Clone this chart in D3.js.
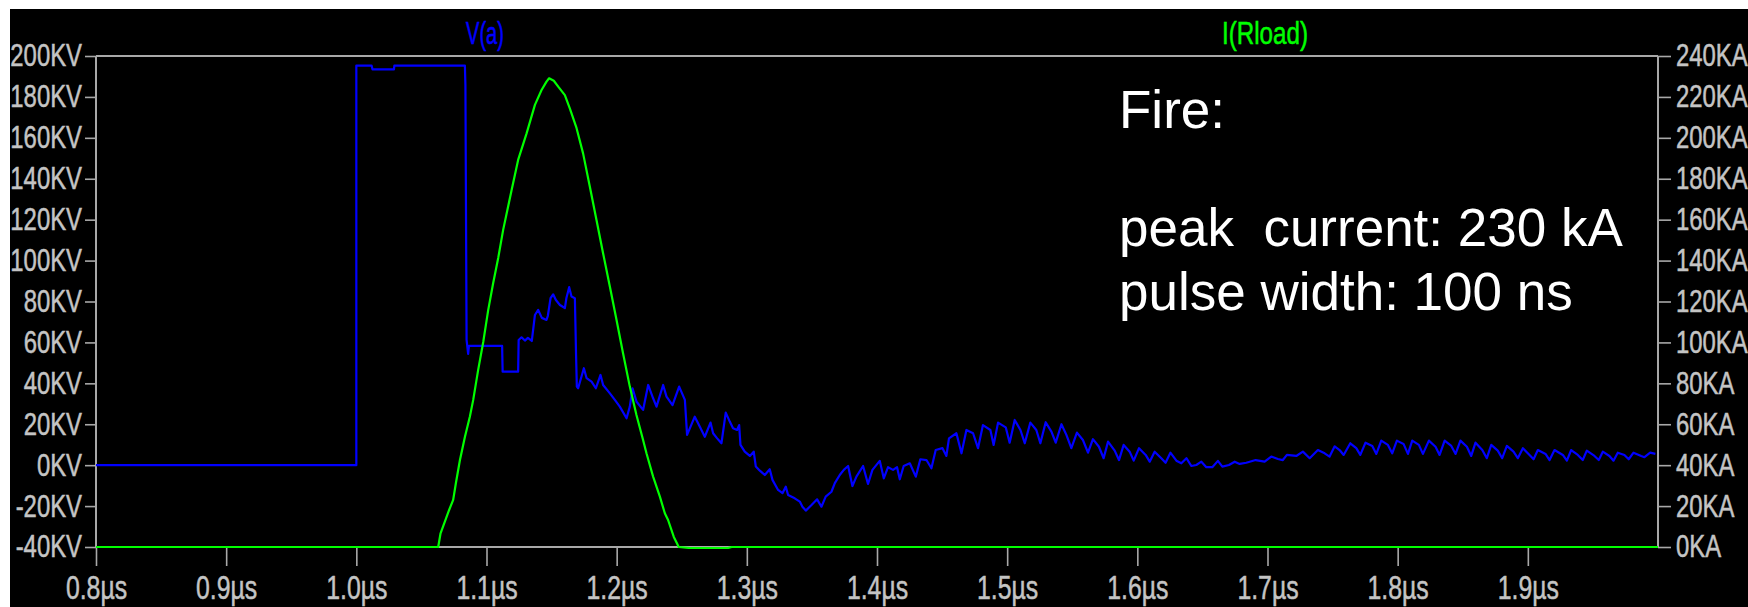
<!DOCTYPE html>
<html>
<head>
<meta charset="utf-8">
<script src="https://cdn.jsdelivr.net/npm/d3@7"></script>
<style>
  body { margin: 0; background: #fff; }
  svg { display: block; }
</style>
</head>
<body>
<div id="chart"></div>
<script>
// V(a) trace: time in ns, voltage in kV
const timeNsV = [800, 1000, 1000, 1011.7, 1012.4, 1028.9, 1029.2, 1083.4, 1083.8, 1084.7, 1085.9, 1086.5, 1112.0, 1112.4, 1124.3, 1124.7, 1126.9, 1129.5, 1131.8, 1134.8,
  1137.2, 1139.7, 1142.5, 1146.1, 1147.1, 1149.2, 1151.2, 1153.3, 1156.4, 1160.2, 1161.4, 1163.5, 1165.3, 1167.9, 1168.8, 1169.4, 1170.4, 1174.8, 1176.9, 1180.7,
  1184.0, 1187.6, 1189.6, 1194.8, 1198.6, 1202.4, 1207.6, 1210.1, 1212.2, 1215.3, 1220.3, 1224.2, 1228.0, 1230.6, 1235.7, 1238.3, 1242.9, 1248.0, 1252.4, 1254.1,
  1260.0, 1263.9, 1267.7, 1272.1, 1274.1, 1277.2, 1280.5, 1283.8, 1286.9, 1289.4, 1292.5, 1294.1, 1295.1, 1298.4, 1302.3, 1305.3, 1306.9, 1310.0, 1313.8, 1317.6,
  1319.7, 1324.0, 1327.4, 1329.9, 1331.7, 1336.8, 1340.7, 1342.7, 1345.3, 1349.7, 1354.0, 1357.3, 1360.6, 1365.0, 1367.6, 1371.4, 1374.5, 1377.8, 1381.1, 1384.2,
  1389.3, 1393.1, 1396.5, 1402.1, 1405.2, 1408.5, 1412.3, 1415.4, 1417.5, 1420.5, 1425.2, 1429.8, 1433.3, 1438.0, 1441.8, 1445.1, 1450.3, 1453.3, 1455.3, 1461.0,
  1464.9, 1468.7, 1473.8, 1477.6, 1481.4, 1487.1, 1489.6, 1493.0, 1498.9, 1501.9, 1505.8, 1510.2, 1513.5, 1517.8, 1522.4, 1525.5, 1529.6, 1534.0, 1537.3, 1541.7,
  1545.5, 1549.3, 1553.6, 1558.2, 1562.1, 1565.9, 1570.5, 1574.1, 1577.5, 1582.6, 1585.9, 1589.5, 1594.1, 1597.2, 1601.3, 1606.4, 1609.5, 1613.3, 1618.4, 1621.7,
  1625.4, 1630.0, 1633.8, 1637.7, 1641.5, 1645.3, 1649.2, 1653.0, 1657.6, 1661.9, 1665.3, 1670.4, 1674.8, 1678.6, 1683.7, 1690.9, 1697.8, 1702.9, 1708.0, 1711.8,
  1714.9, 1722.1, 1727.2, 1732.4, 1738.7, 1743.9, 1747.7, 1751.6, 1755.4, 1758.5, 1763.6, 1768.2, 1771.3, 1775.3, 1780.5, 1783.6, 1787.4, 1792.5, 1795.8, 1799.4,
  1804.5, 1807.9, 1811.2, 1816.3, 1819.4, 1824.0, 1829.1, 1832.2, 1836.1, 1841.2, 1844.5, 1848.2, 1853.2, 1856.5, 1859.8, 1865.0, 1868.5, 1871.9, 1876.9, 1880.3,
  1883.9, 1889.0, 1892.3, 1896.2, 1901.3, 1904.4, 1907.7, 1913.6, 1916.7, 1920.5, 1926.9, 1930.0, 1933.3, 1938.4, 1942.2, 1945.3, 1951.2, 1954.5, 1957.6, 1962.7,
  1965.8, 1969.1, 1974.2, 1977.5, 1981.2, 1987.1, 1989.6, 1994.0, 1998.0];
const vaKV = [0, 0, 195.3, 195.3, 193.5, 193.5, 195.3, 195.3, 185.8, 61.2, 54.4, 58.3, 58.3, 45.7, 45.7, 61.2, 62.5, 60.9, 62.2, 60.7,
  73.4, 75.9, 72.0, 71.0, 72.9, 81.6, 83.5, 80.7, 78.3, 76.8, 81.7, 87.0, 82.4, 81.6, 53.9, 38.4, 37.6, 47.4, 42.5, 40.8,
  37.6, 44.1, 39.2, 35.1, 31.9, 28.6, 22.9, 28.6, 37.6, 31.0, 27.0, 39.2, 32.7, 28.6, 39.2, 33.5, 29.4, 38.4, 31.9, 14.8,
  23.7, 18.8, 13.9, 20.8, 15.6, 13.1, 10.7, 25.7, 21.3, 18.0, 17.2, 19.6, 9.9, 6.6, 4.5, 6.6, -0.7, -2.7, -4.8, -2.0,
  -7.2, -12.1, -13.7, -10.5, -14.6, -16.2, -17.8, -20.3, -22.2, -19.5, -16.7, -20.3, -15.4, -13.0, -8.8, -4.8, -2.3, -0.4, -10.2, -5.6,
  -0.4, -9.2, -2.3, 2.1, -6.4, -1.0, -2.3, -1.0, -6.9, -0.4, 0.9, -5.6, 2.9, 2.5, -1.5, 7.4, 8.3, 4.5, 13.1, 15.6,
  5.8, 17.2, 15.6, 8.3, 19.6, 17.2, 9.9, 20.8, 18.5, 11.0, 22.1, 17.2, 10.7, 20.8, 17.2, 10.7, 21.0, 16.4, 11.0, 20.0,
  14.8, 8.3, 15.9, 12.3, 6.1, 12.7, 9.0, 3.4, 11.5, 7.1, 2.5, 9.9, 6.6, 2.2, 8.3, 5.0, 1.7, 6.6, 3.4, 1.2,
  6.1, 2.2, 0.9, 3.4, -0.4, 0.1, 1.7, -1.0, -1.0, 2.1, -0.7, 0.1, 1.7, 0.6, 1.2, 2.5, 1.7, 4.2, 3.0, 2.5,
  5.0, 4.5, 6.6, 3.4, 7.4, 5.8, 4.2, 9.2, 7.4, 5.0, 10.7, 8.3, 5.0, 11.0, 9.4, 5.5, 12.0, 9.9, 5.8, 12.0,
  10.4, 5.5, 12.0, 9.9, 5.5, 12.0, 9.0, 5.0, 12.0, 9.4, 5.5, 12.0, 9.0, 4.5, 11.0, 7.4, 3.4, 9.9, 7.1, 3.4,
  9.4, 6.6, 3.4, 8.3, 5.0, 2.9, 7.4, 5.5, 2.5, 7.4, 5.0, 2.2, 7.4, 5.0, 2.5, 7.1, 4.5, 2.5, 6.6, 4.5,
  2.2, 6.1, 5.0, 2.9, 6.1, 4.5, 3.9, 6.1, 5.5];

// I(Rload) trace: time in ns, current in kA
const timeNsI = [800, 1062.9, 1064.7, 1068.0, 1071.3, 1074.4, 1076.5, 1079.6, 1083.4, 1087.2, 1089.8, 1093.6, 1097.5, 1101.3, 1105.1, 1109.0, 1112.8, 1119.3, 1124.3, 1130.8,
  1137.2, 1142.3, 1146.1, 1148.1, 1151.7, 1155.1, 1160.2, 1164.0, 1169.2, 1174.2, 1179.4, 1184.5, 1189.6, 1194.8, 1199.9, 1204.9, 1210.1, 1215.2, 1220.3, 1222.9,
  1228.0, 1233.2, 1237.0, 1239.5, 1243.9, 1247.7, 1256.2, 1285.4, 1288.4, 2000];
const iloadKA = [0, 0, 6.7, 12.4, 18.1, 23.0, 31.3, 42.5, 53.8, 63.7, 71.9, 86.6, 100.2, 115.8, 128.9, 141.3, 155.0, 174.5, 189.2, 202.2,
  216.1, 223.4, 227.5, 229.1, 227.9, 225.0, 220.9, 214.4, 204.7, 192.4, 176.1, 159.8, 143.5, 127.2, 111.0, 94.7, 78.4, 64.5, 52.3, 45.8,
  34.4, 24.6, 16.5, 13.2, 4.9, 0, -0.5, -0.5, 0, 0];

const xTicks = [800, 900, 1000, 1100, 1200, 1300, 1400, 1500, 1600, 1700, 1800, 1900];
const xTickLabels = ["0.8µs", "0.9µs", "1.0µs", "1.1µs", "1.2µs", "1.3µs", "1.4µs", "1.5µs", "1.6µs", "1.7µs", "1.8µs", "1.9µs"];
const vTicks = [-40, -20, 0, 20, 40, 60, 80, 100, 120, 140, 160, 180, 200];
const vTickLabels = ["-40KV", "-20KV", "0KV", "20KV", "40KV", "60KV", "80KV", "100KV", "120KV", "140KV", "160KV", "180KV", "200KV"];
const iTicks = [0, 20, 40, 60, 80, 100, 120, 140, 160, 180, 200, 220, 240];
const iTickLabels = ["0KA", "20KA", "40KA", "60KA", "80KA", "100KA", "120KA", "140KA", "160KA", "180KA", "200KA", "220KA", "240KA"];

const noteLines = ["Fire:", "peak  current: 230 kA", "pulse width: 100 ns"];
const noteBaselines = [128, 246, 310];

const W = 1748, H = 607;
const plot = { left: 96, right: 1658, top: 56, bottom: 547 };
const gridColor = "#a8a8a8";
const labelColor = "#c4c4c4";
const font = "'Liberation Sans', Arial, sans-serif";

const svg = d3.select("#chart").append("svg")
    .attr("width", W)
    .attr("height", H);

svg.append("rect")
    .attr("x", 10).attr("y", 9)
    .attr("width", W - 10).attr("height", H - 9)
    .attr("fill", "#000");

const x = d3.scaleLinear().domain([800, 2000]).range([plot.left, plot.right]);
const yV = d3.scaleLinear().domain([-40, 200]).range([plot.bottom, plot.top]);
const yI = d3.scaleLinear().domain([0, 240]).range([plot.bottom, plot.top]);

// LTspice labels are tall and narrow: squeeze a normal sans horizontally
function styleAxis(g, size, sx, tx) {
    g.select(".domain").remove();
    g.selectAll("line").attr("stroke", gridColor).attr("stroke-width", 1.6);
    const t = g.selectAll("text")
        .attr("fill", labelColor)
        .attr("stroke", labelColor)
        .attr("stroke-width", 0.5)
        .attr("font-family", font)
        .attr("font-size", size)
        .attr("transform", `scale(${sx},1)`);
    if (tx !== null) t.attr("x", tx / sx);
}

svg.append("g")
    .attr("transform", `translate(${plot.left},0)`)
    .call(d3.axisLeft(yV).tickValues(vTicks).tickFormat((d, i) => vTickLabels[i]).tickSize(11).tickSizeOuter(0))
    .call(g => styleAxis(g, 31, 0.77, -14));

svg.append("g")
    .attr("transform", `translate(${plot.right},0)`)
    .call(d3.axisRight(yI).tickValues(iTicks).tickFormat((d, i) => iTickLabels[i]).tickSize(13).tickSizeOuter(0))
    .call(g => styleAxis(g, 31, 0.77, 18));

svg.append("g")
    .attr("transform", `translate(0,${plot.bottom})`)
    .call(d3.axisBottom(x).tickValues(xTicks).tickFormat((d, i) => xTickLabels[i]).tickSize(19).tickPadding(9).tickSizeOuter(0))
    .call(g => styleAxis(g, 34, 0.73, null));

// frame
const frame = svg.append("g").attr("stroke", gridColor).attr("stroke-width", 2);
frame.append("line").attr("x1", plot.left).attr("x2", plot.right).attr("y1", plot.top).attr("y2", plot.top);
frame.append("line").attr("x1", plot.left).attr("x2", plot.right).attr("y1", plot.bottom).attr("y2", plot.bottom);
frame.append("line").attr("x1", plot.left).attr("x2", plot.left).attr("y1", plot.top).attr("y2", plot.bottom);
frame.append("line").attr("x1", plot.right).attr("x2", plot.right).attr("y1", plot.top).attr("y2", plot.bottom);

svg.append("clipPath").attr("id", "clip")
    .append("rect")
    .attr("x", plot.left).attr("y", plot.top - 2)
    .attr("width", plot.right - plot.left).attr("height", plot.bottom - plot.top + 4);

const vData = d3.zip(timeNsV, vaKV);
const iData = d3.zip(timeNsI, iloadKA);

const traces = svg.append("g").attr("clip-path", "url(#clip)");

traces.append("path")
    .datum(vData)
    .attr("fill", "none")
    .attr("stroke", "#0000ff")
    .attr("stroke-width", 2.2)
    .attr("stroke-linejoin", "round")
    .attr("d", d3.line().x(d => x(d[0])).y(d => yV(d[1])));

traces.append("path")
    .datum(iData)
    .attr("fill", "none")
    .attr("stroke", "#00ff00")
    .attr("stroke-width", 2.2)
    .attr("stroke-linejoin", "round")
    .attr("d", d3.line().x(d => x(d[0])).y(d => yI(d[1])));

// trace names
const names = [
    { text: "V(a)", cx: 485, len: 38, color: "#0000ff" },
    { text: "I(Rload)", cx: 1265, len: 86, color: "#00ff00" }
];
svg.append("g")
    .selectAll("text")
    .data(names)
    .enter()
    .append("text")
    .attr("x", d => d.cx).attr("y", 44)
    .attr("text-anchor", "middle")
    .attr("font-family", font)
    .attr("font-size", 31)
    .attr("textLength", d => d.len).attr("lengthAdjust", "spacingAndGlyphs")
    .attr("fill", d => d.color)
    .attr("stroke", d => d.color)
    .attr("stroke-width", 0.5)
    .text(d => d.text);

// annotation
svg.append("g")
    .selectAll("text")
    .data(noteLines)
    .enter()
    .append("text")
    .attr("x", 1119)
    .attr("y", (d, i) => noteBaselines[i])
    .attr("font-family", font)
    .attr("font-size", 53)
    .attr("fill", "#fff")
    .style("white-space", "pre")
    .text(d => d);
</script>
</body>
</html>
